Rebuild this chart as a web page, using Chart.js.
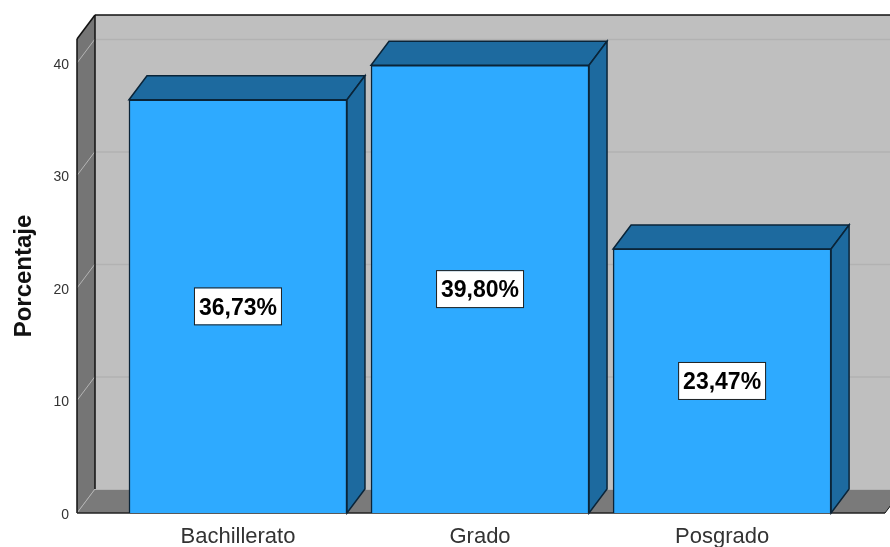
<!DOCTYPE html>
<html>
<head>
<meta charset="utf-8">
<style>
  html, body { margin: 0; padding: 0; background: #fff; }
  #wrap { position: relative; width: 890px; height: 547px; overflow: hidden; }
</style>
<script src="https://cdn.jsdelivr.net/npm/chart.js@4"></script>
</head>
<body>
<div id="wrap"><canvas id="chart" width="890" height="547"></canvas></div>
<script>
const categories = ['Bachillerato', 'Grado', 'Posgrado'];
const percentages = [36.73, 39.80, 23.47];
const pctLabels = ['36,73%', '39,80%', '23,47%'];
const yTicks = [0, 10, 20, 30, 40];

// depth of the fake 3d box
const DX = 18, DY = 24;

// walls, floor and the side/top faces of the bars
const box3d = {
    id: 'box3d',
    beforeDatasetsDraw(chart) {
        const c = chart.ctx, a = chart.chartArea, y = chart.scales.y;
        const poly = (pts, fill, stroke, w) => {
            c.beginPath();
            pts.forEach((p, i) => i ? c.lineTo(p[0], p[1]) : c.moveTo(p[0], p[1]));
            c.closePath();
            if (fill) { c.fillStyle = fill; c.fill(); }
            if (stroke) { c.strokeStyle = stroke; c.lineWidth = w || 1; c.stroke(); }
        };
        const line = (x1, y1, x2, y2, col, w) => {
            c.beginPath(); c.moveTo(x1, y1); c.lineTo(x2, y2);
            c.strokeStyle = col; c.lineWidth = w; c.stroke();
        };
        c.save();
        // back wall
        c.fillStyle = '#bfbfbf';
        c.fillRect(a.left + DX, a.top - DY, a.width, a.height);
        // left wall
        poly([[a.left, a.top], [a.left + DX, a.top - DY], [a.left + DX, a.bottom - DY], [a.left, a.bottom]], '#757575');
        // floor
        poly([[a.left, a.bottom], [a.left + DX, a.bottom - DY], [a.right + DX, a.bottom - DY], [a.right, a.bottom]], '#7a7a7a');
        // gridlines on back wall and left wall
        yTicks.forEach(t => {
            const py = y.getPixelForValue(t);
            if (t > 0) line(a.left + DX, py - DY + 0.5, a.right + DX, py - DY + 0.5, '#b2b2b2', 1.5);
            line(a.left, py, a.left + DX, py - DY, '#b4b4b4', 1);
        });
        line(a.left + DX, a.bottom - DY + 0.5, a.right + DX, a.bottom - DY + 0.5, '#b4b4b4', 1);
        // box outline
        line(a.left + DX, a.top - DY, 890, a.top - DY, '#111', 1.5);
        line(a.left, a.top, a.left + DX, a.top - DY, '#111', 1.5);
        line(a.left + DX, a.top - DY, a.left + DX, a.bottom - DY, '#111', 1.5);
        line(a.left, a.top, a.left, a.bottom, '#111', 1.5);
        line(a.right, a.bottom, a.right + DX, a.bottom - DY, '#111', 1);
        line(a.left, a.bottom, a.right, a.bottom, '#222', 1.5);
        // bar faces
        chart.getDatasetMeta(0).data.forEach(el => {
            const l = el.x - el.width / 2, r = el.x + el.width / 2, t = el.y, b = el.base;
            poly([[l, t], [l + DX, t - DY], [r + DX, t - DY], [r, t]], '#1d6a9f', '#0a2438', 1.5);
            poly([[r, t], [r + DX, t - DY], [r + DX, b - DY], [r, b]], '#1d6a9f', '#0a2438', 1.5);
        });
        c.restore();
    },
    afterDatasetsDraw(chart) {
        const c = chart.ctx;
        c.save();
        c.font = 'bold 23px "Liberation Sans", Arial, sans-serif';
        c.textAlign = 'center';
        c.textBaseline = 'middle';
        chart.getDatasetMeta(0).data.forEach((el, i) => {
            const my = (el.y + el.base) / 2;
            c.fillStyle = '#fff';
            c.fillRect(el.x - 43, my - 18, 86, 36);
            c.strokeStyle = '#222';
            c.lineWidth = 1;
            c.strokeRect(el.x - 43.5, my - 18.5, 87, 37);
            c.fillStyle = '#000';
            c.fillText(pctLabels[i], el.x, my + 2);
        });
        c.restore();
    }
};

new Chart(document.getElementById('chart').getContext('2d'), {
    type: 'bar',
    data: {
        datasets: [{
            data: categories.map((_, i) => ({ x: i, y: percentages[i] })),
            backgroundColor: '#2eaaff',
            borderColor: '#0a2438',
            borderWidth: 1.5,
            barThickness: 218
        }]
    },
    options: {
        responsive: false,
        animation: false,
        layout: { padding: { top: 39, right: 5, left: 0, bottom: 0 } },
        plugins: { legend: { display: false }, tooltip: { enabled: false } },
        scales: {
            x: {
                type: 'linear',
                offset: false,
                min: -0.665,
                max: 2.673,
                grid: { display: false, drawTicks: false },
                border: { display: false },
                afterBuildTicks: s => { s.ticks = categories.map((_, i) => ({ value: i })); },
                afterFit: s => { s.height = 34; },
                ticks: {
                    autoSkip: false,
                    maxRotation: 0,
                    includeBounds: false,
                    padding: 11,
                    color: '#333',
                    font: { family: '"Liberation Sans", Arial, sans-serif', size: 22 },
                    callback: v => categories[v]
                }
            },
            y: {
                min: 0,
                max: 42.13,
                grid: { display: false, drawTicks: false },
                border: { display: false },
                afterBuildTicks: s => { s.ticks = yTicks.map(v => ({ value: v })); },
                afterFit: s => { s.width = 77; },
                title: {
                    display: true,
                    text: 'Porcentaje',
                    color: '#111',
                    padding: { top: 10, bottom: 0 },
                    font: { family: '"Liberation Sans", Arial, sans-serif', size: 24, weight: 'bold' }
                },
                ticks: {
                    includeBounds: false,
                    padding: 8,
                    labelOffset: 2,
                    color: '#333',
                    font: { family: '"Liberation Sans", Arial, sans-serif', size: 14 }
                }
            }
        }
    },
    plugins: [box3d]
});
</script>
</body>
</html>
